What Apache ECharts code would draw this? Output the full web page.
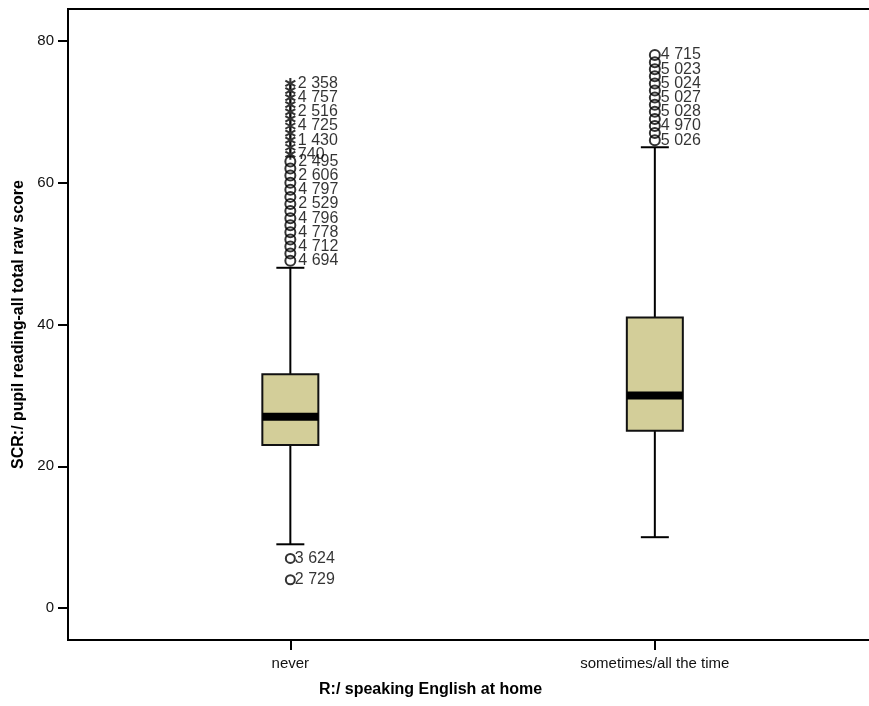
<!DOCTYPE html>
<html>
<head>
<meta charset="utf-8">
<title>Reading score by English spoken at home</title>
<script src="https://cdn.jsdelivr.net/npm/echarts@6/dist/echarts.min.js"></script>
<style>
  html, body { margin: 0; padding: 0; background: #fff; }
  #chart { width: 869px; height: 706px; }
</style>
</head>
<body>
<div id="chart"></div>
<script>
// Groups on the horizontal axis (placed at positions 1 and 2)
const categories = ['never', 'sometimes/all the time'];
const categoryPositions = [1, 2];

// Box statistics per group: [lower whisker, Q1, median, Q3, upper whisker]
const boxStats = [
  [9, 23, 27, 33, 48],
  [10, 25, 30, 41, 65]
];

// Outliers (circles) and extremes (asterisks) with case ids
const neverLowValues = [4, 7];
const neverLowIds = ['2 729', '3 624'];

const neverOutlierValues = [49, 50, 51, 52, 53, 54, 55, 56, 57, 58, 59, 60, 61, 62, 63];
const neverOutlierIds = ['4 694', '', '4 712', '', '4 778', '', '4 796', '', '2 529', '', '4 797', '', '2 606', '', '2 495'];

const neverExtremeValues = [64, 65, 66, 67, 68, 69, 70, 71, 72, 73, 74];
const neverExtremeIds = ['740', '', '1 430', '', '4 725', '', '2 516', '', '4 757', '', '2 358'];

const sometimesOutlierValues = [66, 67, 68, 69, 70, 71, 72, 73, 74, 75, 76, 77, 78];
const sometimesOutlierIds = ['5 026', '', '4 970', '', '5 028', '', '5 027', '', '5 024', '', '5 023', '', '4 715'];

const yTicks = [0, 20, 40, 60, 80];

const FONT = "'Liberation Sans', Arial, sans-serif";
const BOX_FILL = '#d3ce99';

const boxData = boxStats.map((s, i) => [categoryPositions[i]].concat(s));

function pointsAt(pos, values, ids) {
  return values.map((v, i) => ({ value: [pos, v], id: ids[i] }));
}

// six-armed asterisk used for extreme values
const asteriskPath = 'path://M-0.9,-5L0.9,-5L0.9,5L-0.9,5Z' +
  'M3.88,-3.28L4.78,-1.72L-3.88,3.28L-4.78,1.72Z' +
  'M-4.78,-1.72L-3.88,-3.28L4.78,1.72L3.88,3.28Z';

const idLabel = {
  show: true,
  position: 'right',
  distance: 2,
  color: '#000',
  fontFamily: FONT,
  fontSize: 16,
  formatter: p => p.data.id
};

const circleStyle = { color: 'rgba(0,0,0,0)', borderColor: '#000', borderWidth: 2 };

function renderBox(params, api) {
  const x = api.value(0);
  const lo = api.coord([x, api.value(1)]);
  const q1 = api.coord([x, api.value(2)]);
  const med = api.coord([x, api.value(3)]);
  const q3 = api.coord([x, api.value(4)]);
  const hi = api.coord([x, api.value(5)]);
  const cx = lo[0];
  const boxW = 56, capW = 28;
  const line = { stroke: '#000', lineWidth: 2 };
  return {
    type: 'group',
    children: [
      { type: 'line', shape: { x1: cx, y1: lo[1], x2: cx, y2: q1[1] }, style: line },
      { type: 'line', shape: { x1: cx, y1: q3[1], x2: cx, y2: hi[1] }, style: line },
      { type: 'line', shape: { x1: cx - capW / 2, y1: lo[1], x2: cx + capW / 2, y2: lo[1] }, style: line },
      { type: 'line', shape: { x1: cx - capW / 2, y1: hi[1], x2: cx + capW / 2, y2: hi[1] }, style: line },
      {
        type: 'rect',
        shape: { x: cx - boxW / 2, y: q3[1], width: boxW, height: q1[1] - q3[1] },
        style: { fill: BOX_FILL, stroke: '#111', lineWidth: 2 }
      },
      {
        type: 'rect',
        shape: { x: cx - boxW / 2, y: med[1] - 4, width: boxW, height: 8 },
        style: { fill: '#000' }
      }
    ]
  };
}

const chart = echarts.init(document.getElementById('chart'), null, { renderer: 'canvas' });

chart.setOption({
  animation: false,
  backgroundColor: '#fff',
  grid: {
    left: 68, top: 9, width: 850, height: 631,
    outerBoundsMode: 'none',
    containLabel: false,
    show: true, borderColor: '#000', borderWidth: 2, backgroundColor: 'transparent'
  },
  xAxis: {
    type: 'value',
    min: 0.39,
    max: 2.722,
    splitLine: { show: false },
    axisLine: { show: true, onZero: false, lineStyle: { color: '#000', width: 2 } },
    axisTick: { show: true, customValues: categoryPositions, length: 10, lineStyle: { color: '#000', width: 2 } },
    axisLabel: {
      customValues: categoryPositions,
      formatter: v => categories[categoryPositions.indexOf(v)] || '',
      color: '#111', fontFamily: FONT, fontSize: 15, margin: 16
    }
  },
  yAxis: {
    type: 'value',
    min: -4.5,
    max: 84.5,
    splitLine: { show: false },
    axisLine: { show: true, onZero: false, lineStyle: { color: '#000', width: 2 } },
    axisTick: { show: true, customValues: yTicks, length: 10, lineStyle: { color: '#000', width: 2 } },
    axisLabel: {
      customValues: yTicks,
      color: '#111', fontFamily: FONT, fontSize: 15, margin: 14
    },
    name: 'SCR:/ pupil reading-all total raw score',
    nameLocation: 'middle',
    nameGap: 35,
    nameTextStyle: { color: '#000', fontFamily: FONT, fontSize: 16, fontWeight: 'bold' }
  },
  graphic: [{
    type: 'text',
    left: 430 - 111, top: 682,
    style: {
      text: 'R:/ speaking English at home',
      fill: '#000', font: 'bold 16px ' + FONT
    }
  }],
  series: [
    {
      type: 'custom',
      renderItem: renderBox,
      encode: { x: 0, y: [1, 2, 3, 4, 5] },
      data: boxData,
      z: 2
    },
    {
      type: 'scatter',
      symbol: 'circle',
      symbolSize: 9,
      itemStyle: circleStyle,
      label: Object.assign({}, idLabel, { distance: -1 }),
      data: pointsAt(categoryPositions[0], neverLowValues, neverLowIds),
      z: 3
    },
    {
      type: 'scatter',
      symbol: 'circle',
      symbolSize: 10,
      itemStyle: circleStyle,
      label: idLabel,
      data: pointsAt(categoryPositions[0], neverOutlierValues, neverOutlierIds),
      z: 3
    },
    {
      type: 'scatter',
      symbol: asteriskPath,
      symbolSize: 11,
      itemStyle: { color: '#000' },
      label: Object.assign({}, idLabel, { distance: 2 }),
      data: pointsAt(categoryPositions[0], neverExtremeValues, neverExtremeIds),
      z: 3
    },
    {
      type: 'scatter',
      symbol: 'circle',
      symbolSize: 10,
      itemStyle: circleStyle,
      label: Object.assign({}, idLabel, { distance: 0 }),
      data: pointsAt(categoryPositions[1], sometimesOutlierValues, sometimesOutlierIds),
      z: 3
    }
  ]
});
</script>
</body>
</html>
